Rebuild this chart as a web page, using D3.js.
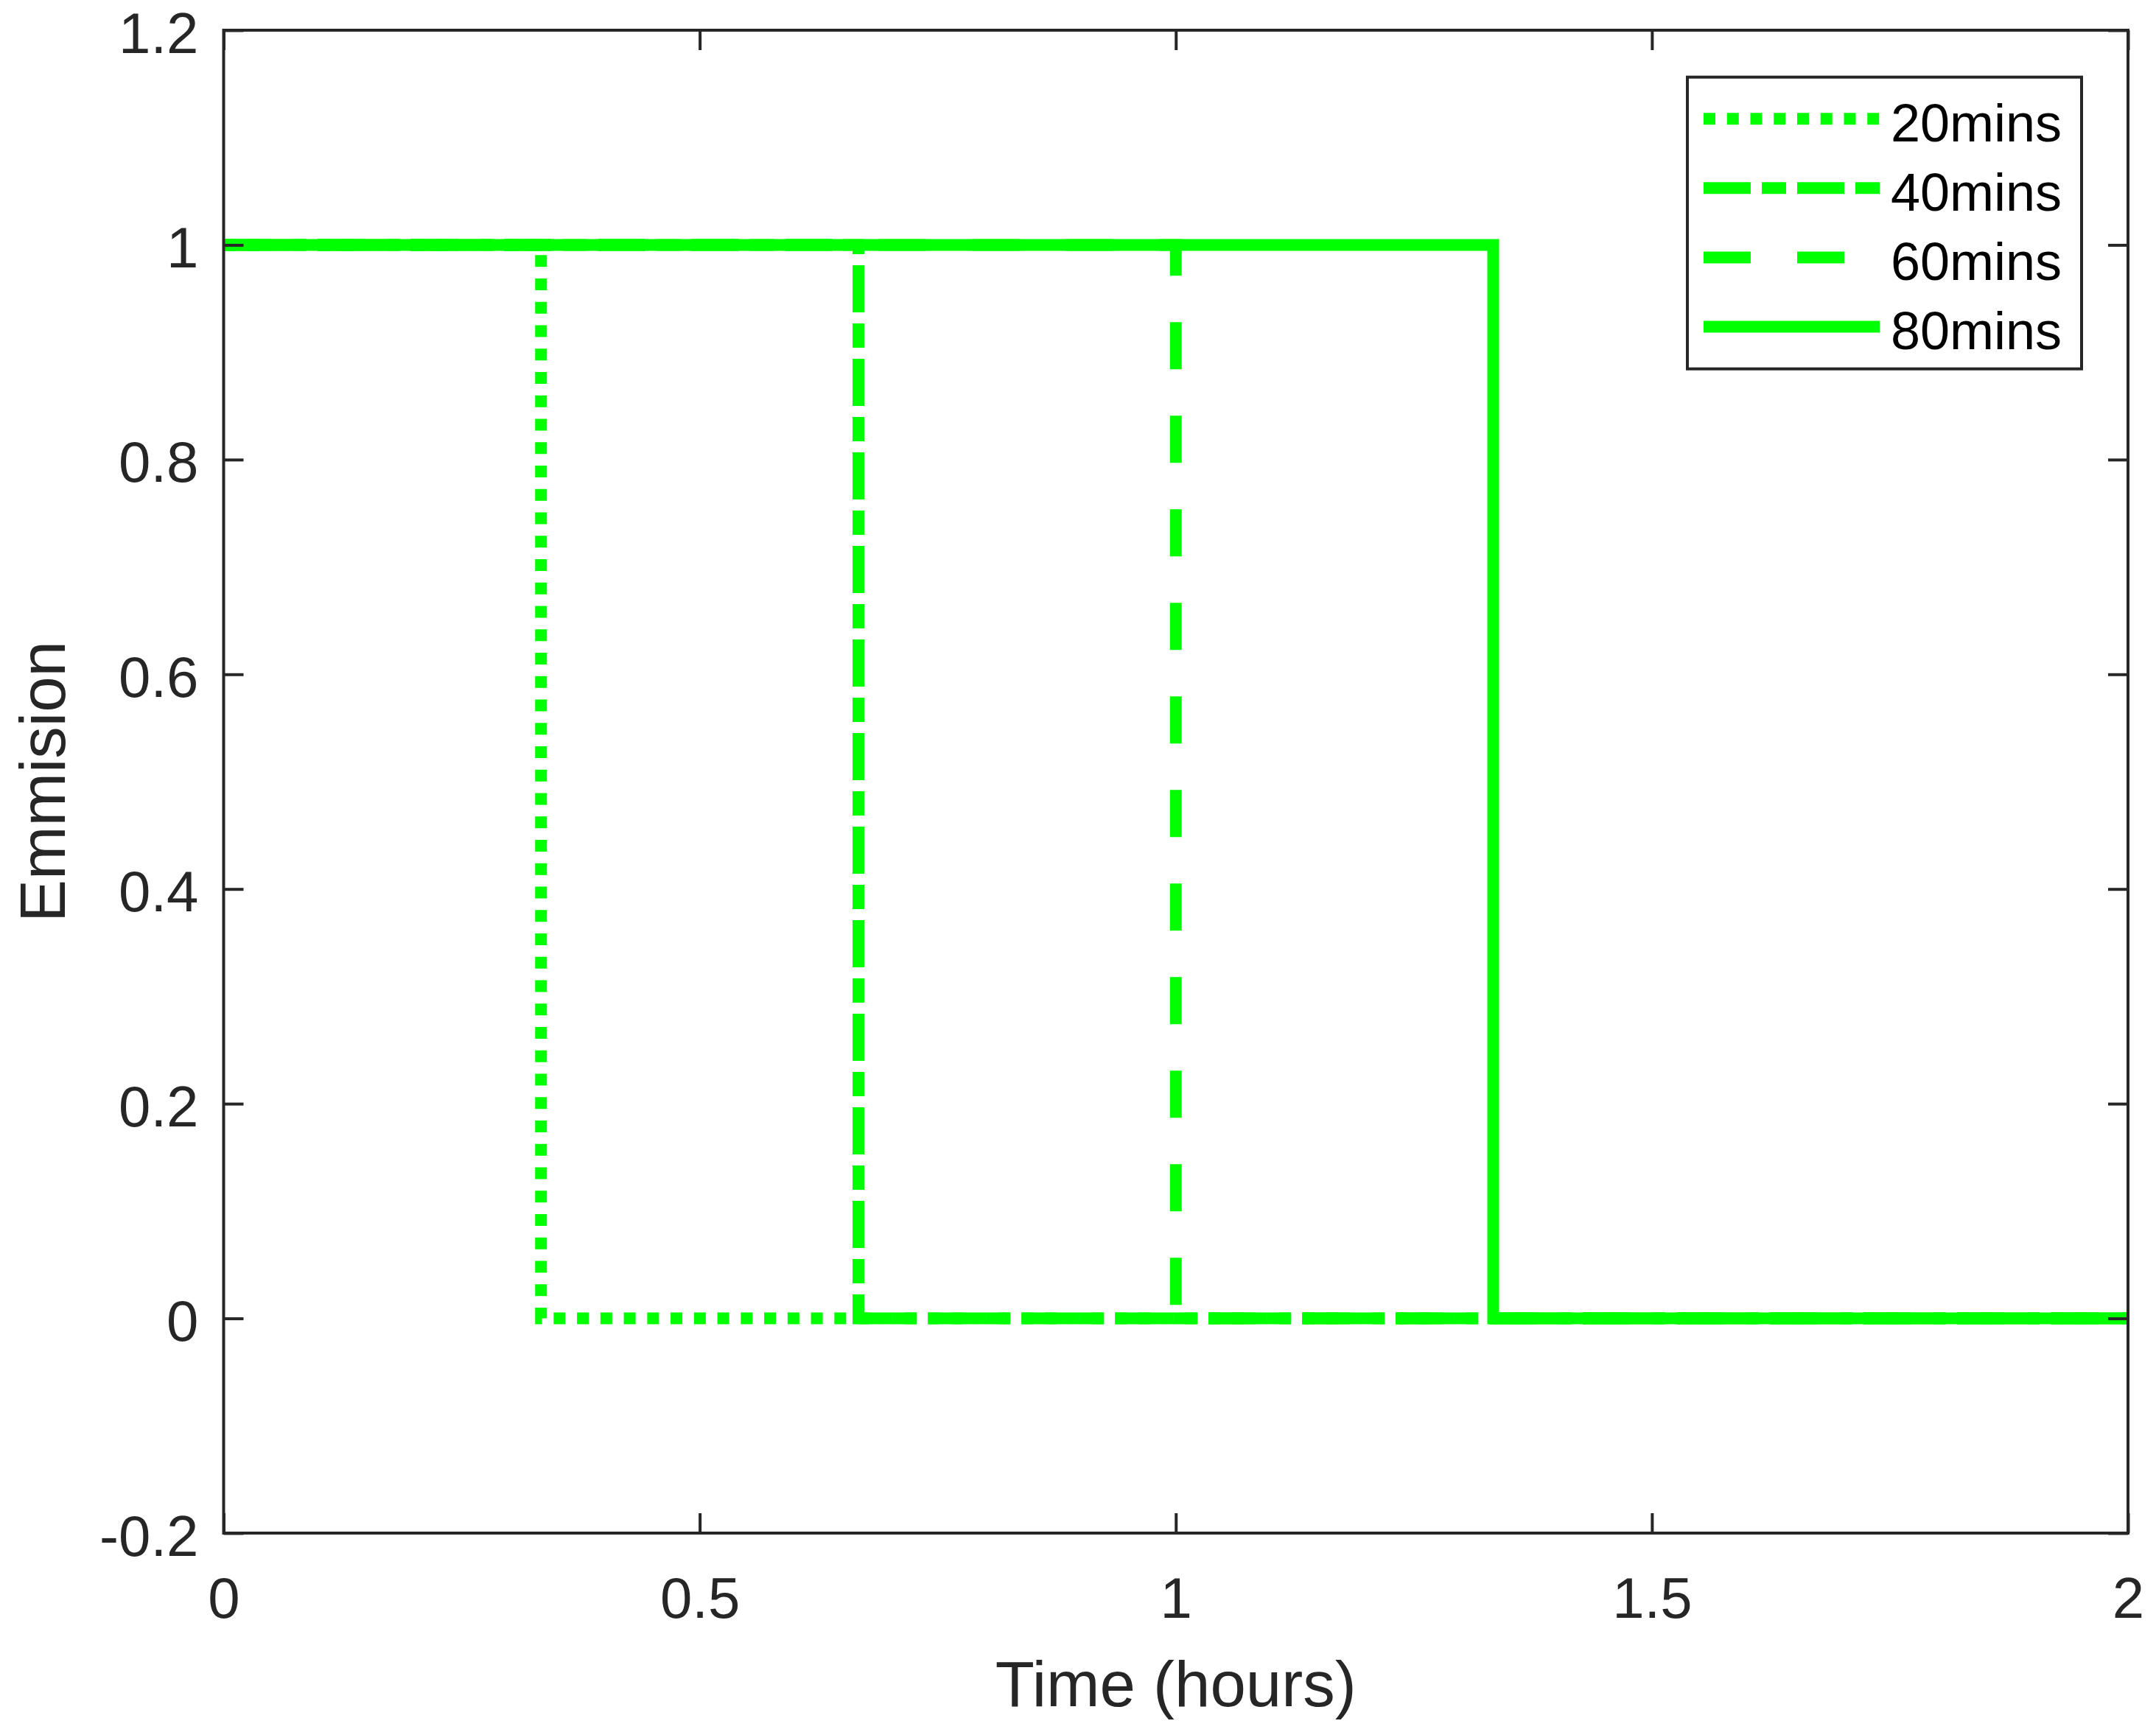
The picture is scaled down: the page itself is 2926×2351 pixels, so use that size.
<!DOCTYPE html>
<html>
<head>
<meta charset="utf-8">
<script src="https://cdn.jsdelivr.net/npm/d3@7"></script>
<style>
  html, body { margin: 0; padding: 0; background: #ffffff; }
  svg { display: block; }
  text { font-family: "Liberation Sans", Arial, Helvetica, sans-serif; fill: #262626; }
</style>
</head>
<body>
<svg id="chart" width="2926" height="2351"></svg>
<script>
// ---- data ----
const seriesNames = ["20mins", "40mins", "60mins", "80mins"];
// step-after points: emission holds from each time until the next
const time20 = [0, 1/3, 2];
const emis20 = [1, 0, 0];
const time40 = [0, 2/3, 2];
const emis40 = [1, 0, 0];
const time60 = [0, 1, 2];
const emis60 = [1, 0, 0];
const time80 = [0, 4/3, 2];
const emis80 = [1, 0, 0];
const xTicks = [0, 0.5, 1, 1.5, 2];
const xTickLabels = ["0", "0.5", "1", "1.5", "2"];
const yTicks = [-0.2, 0, 0.2, 0.4, 0.6, 0.8, 1, 1.2];
const yTickLabels = ["-0.2", "0", "0.2", "0.4", "0.6", "0.8", "1", "1.2"];
const xLabel = "Time (hours)";
const yLabel = "Emmision";

// ---- layout / style ----
const L = 303.5, R = 2888, T = 41, B = 2081;
const green = "#00ff00";
const axisColor = "#262626";
const lineW = 16;
const dashes = ["16,15.75", "64,15,33,15", "64,63", null];

const svg = d3.select("#chart");
const x = d3.scaleLinear().domain([0, 2]).range([L, R]);
const y = d3.scaleLinear().domain([-0.2, 1.2]).range([B, T]);

const series = [
  time20.map((t, i) => [t, emis20[i]]),
  time40.map((t, i) => [t, emis40[i]]),
  time60.map((t, i) => [t, emis60[i]]),
  time80.map((t, i) => [t, emis80[i]])
];

svg.append("defs").append("clipPath").attr("id", "clip")
  .append("rect").attr("x", L).attr("y", T).attr("width", R - L).attr("height", B - T);

const line = d3.line().x(d => x(d[0])).y(d => y(d[1])).curve(d3.curveStepAfter);

const gLines = svg.append("g").attr("clip-path", "url(#clip)");
series.forEach((s, i) => {
  gLines.append("path")
    .datum(s)
    .attr("d", line)
    .attr("fill", "none")
    .attr("stroke", green)
    .attr("stroke-width", lineW)
    .attr("stroke-linecap", "butt")
    .attr("stroke-linejoin", "miter")
    .attr("stroke-dasharray", dashes[i]);
});

// ---- axes ----
const tickLen = 27;
const fontTick = 78;

const gx = svg.append("g").attr("transform", `translate(0,${B})`)
  .call(d3.axisBottom(x).tickValues(xTicks).tickFormat((d, i) => xTickLabels[i])
        .tickSizeInner(-tickLen).tickSizeOuter(0).tickPadding(0));
const gxTop = svg.append("g").attr("transform", `translate(0,${T})`)
  .call(d3.axisTop(x).tickValues(xTicks).tickFormat("").tickSizeInner(-tickLen).tickSizeOuter(0));
const gy = svg.append("g").attr("transform", `translate(${L},0)`)
  .call(d3.axisLeft(y).tickValues(yTicks).tickFormat((d, i) => yTickLabels[i])
        .tickSizeInner(-tickLen).tickSizeOuter(0).tickPadding(0));
const gyR = svg.append("g").attr("transform", `translate(${R},0)`)
  .call(d3.axisRight(y).tickValues(yTicks).tickFormat("").tickSizeInner(-tickLen).tickSizeOuter(0));

[gx, gxTop, gy, gyR].forEach(g => {
  g.select(".domain").remove();
  g.selectAll(".tick line").attr("stroke", axisColor).attr("stroke-width", 4);
});

gx.selectAll(".tick text")
  .attr("y", 115).attr("dy", null)
  .attr("font-size", fontTick).attr("fill", axisColor)
  .style("font-family", "'Liberation Sans', Arial, sans-serif");
gy.selectAll(".tick text")
  .attr("x", -34).attr("dy", 30)
  .attr("font-size", fontTick).attr("fill", axisColor)
  .attr("text-anchor", "end")
  .style("font-family", "'Liberation Sans', Arial, sans-serif");

// frame
svg.append("rect")
  .attr("x", L).attr("y", T).attr("width", R - L).attr("height", B - T)
  .attr("fill", "none").attr("stroke", axisColor).attr("stroke-width", 4);

// axis labels
svg.append("text")
  .attr("x", (L + R) / 2).attr("y", 2316)
  .attr("text-anchor", "middle").attr("font-size", 87)
  .text(xLabel);
svg.append("text")
  .attr("transform", `translate(88,${(T + B) / 2}) rotate(-90)`)
  .attr("text-anchor", "middle").attr("font-size", 87)
  .text(yLabel);

// ---- legend ----
const lgX = 2290, lgY = 104.7, lgW = 535, lgH = 396;
const lg = svg.append("g");
lg.append("rect")
  .attr("x", lgX).attr("y", lgY).attr("width", lgW).attr("height", lgH)
  .attr("fill", "#ffffff").attr("stroke", axisColor).attr("stroke-width", 4);
const legendY = d3.scaleLinear().domain([0, 3]).range([161.3, 443.5]);
seriesNames.forEach((name, i) => {
  const yy = legendY(i);
  lg.append("line")
    .attr("x1", 2312).attr("x2", 2551).attr("y1", yy).attr("y2", yy)
    .attr("stroke", green).attr("stroke-width", lineW)
    .attr("stroke-linecap", "butt")
    .attr("stroke-dasharray", dashes[i]);
  lg.append("text")
    .attr("x", 2566).attr("y", yy + 30.4)
    .attr("font-size", 72).attr("fill", "#000000")
    .style("fill", "#000000")
    .text(name);
});
</script>
</body>
</html>
